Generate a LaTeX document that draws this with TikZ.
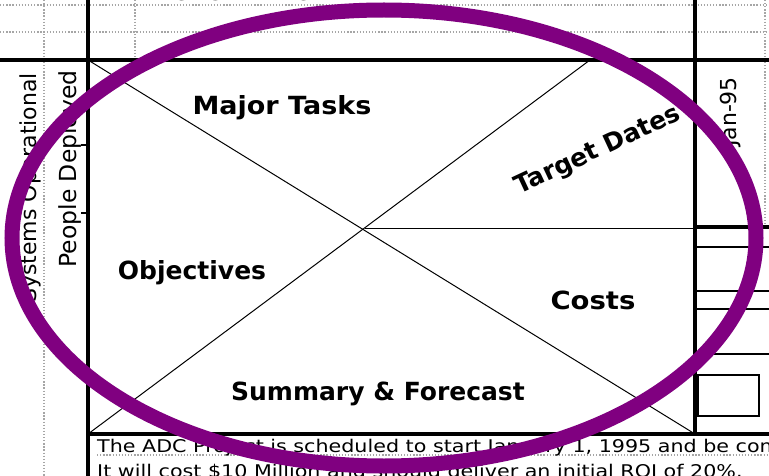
\documentclass[tikz,border=0pt]{standalone}
\usepackage{fontspec}
\setmainfont{DejaVu Sans}
\definecolor{ovalpurple}{RGB}{128,0,128}
\begin{document}
\begin{tikzpicture}[x=1pt,y=-1pt,
  heavy/.style={line width=4pt},
  thinrule/.style={line width=1.5pt},
  diag/.style={line width=1pt},
  gridline/.style={black!35,line width=1.3pt,dash pattern=on 1.3pt off 1.8pt},
  bigbold/.style={font=\fontsize{25}{30}\selectfont\bfseries, inner sep=0pt},
  sidetext/.style={font=\fontsize{22}{26}\selectfont, inner sep=0pt},
  bodytext/.style={font=\fontsize{17.5}{20}\selectfont, inner sep=0pt, anchor=base west, xscale=1.18},
]
\useasboundingbox (0,0) rectangle (769,476);
\fill[white] (0,0) rectangle (769,476);
\clip (0,0) rectangle (769,476);

% dotted grid
\draw[gridline] (0,5) -- (769,5);
\draw[gridline] (0,32) -- (769,32);
\draw[gridline] (44,0) -- (44,476);
\draw[gridline] (135,0) -- (135,60);
\draw[gridline] (765,0) -- (765,228);
\draw[gridline] (97,455) -- (769,455);

% heavy frame
\draw[heavy] (88,0) -- (88,476);
\draw[heavy] (695,0) -- (695,434);
\draw[heavy] (0,60) -- (769,60);
\draw[heavy] (88,434) -- (769,434);
\draw[heavy] (695,227) -- (769,227);

% right column rules
\draw[thinrule] (695,247) -- (769,247);
\draw[thinrule] (695,291) -- (769,291);
\draw[thinrule] (695,309) -- (769,309);
\draw[thinrule] (695,354) -- (769,354);
\draw[thinrule] (698,375) rectangle (759,416);

% left ticks
\draw[thinrule] (81,145) -- (88,145);
\draw[thinrule] (81,213) -- (88,213);

% central box diagonals
\coordinate (TL) at (88,60);
\coordinate (BL) at (88,434);
\coordinate (BR) at (695,434);
\coordinate (TT) at (590,60);
\coordinate (X) at (365,228);
\coordinate (RM) at (695,228);
\draw[diag] (TL) -- (BR);
\draw[diag] (BL) -- (TT);
\draw[diag] (X) -- (RM);

% quadrant labels
\node[bigbold, xscale=1.08] (major) at (282,108) {Major Tasks};
\node[bigbold, rotate=25] (target) at (598,151) {Target Dates};
\node[bigbold] (obj) at (192,273) {Objectives};
\node[bigbold, xscale=1.1] (costs) at (593,300) {Costs};
\node[bigbold] (summ) at (378,394) {Summary \& Forecast};

% side texts
\node[sidetext, rotate=90, font=\fontsize{23.5}{28}\selectfont] (people) at (70,169) {People Deployed};
\node[sidetext, rotate=90] (systems) at (30,188) {Systems Operational};
\node[sidetext, rotate=90] (jan) at (731,112) {Jan-95};

% top (cropped) heading
\node[sidetext, anchor=base west] (num) at (97,1) {2};
\node[sidetext, anchor=base west] (head) at (147,1) {Events in Time};

% bottom text
\node[bodytext] (line1) at (97,452) {The ADC Project is scheduled to start January 1, 1995 and be completed by December 31, 1995.};
\node[bodytext] (line2) at (97,477) {It will cost \$10 Million and should deliver an initial ROI of 20\%.};

% purple oval
\draw[ovalpurple, line width=15pt] (384,238) ellipse [x radius=372, y radius=228];
\end{tikzpicture}
\end{document}
